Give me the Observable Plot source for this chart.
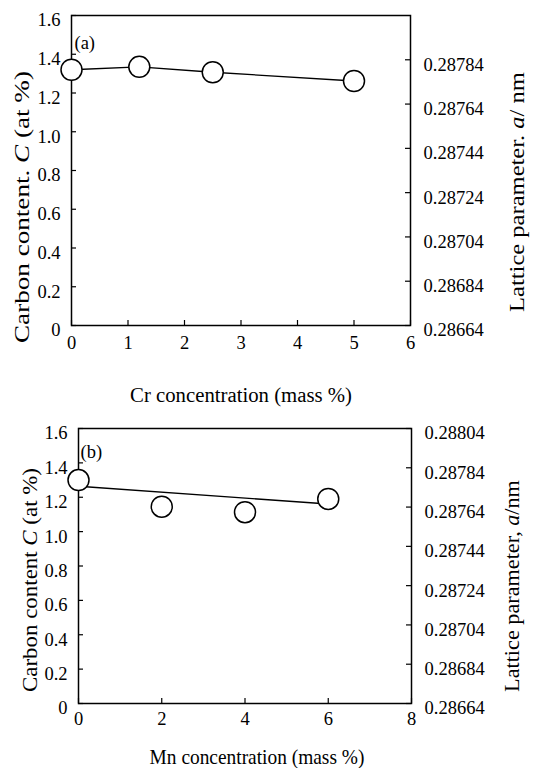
<!DOCTYPE html>
<html><head><meta charset="utf-8">
<script src="https://cdn.jsdelivr.net/npm/d3@7"></script>
<script src="https://cdn.jsdelivr.net/npm/@observablehq/plot@0.6"></script>
<style>
body{margin:0;background:#fff;}
svg{display:block;}
svg text, svg tspan{font-family:"Liberation Serif","Times New Roman",serif !important;}
</style>
</head><body><div id="chart"></div>
<script>
// ---- data ----
const crConc = [0, 1.2, 2.5, 5];
const crCarbon = [1.32, 1.335, 1.307, 1.262];
const mnConc = [0, 2, 4, 6];
const mnCarbon = [1.30, 1.145, 1.113, 1.19];
const mnFitConc = [0, 6];
const mnFitCarbon = [1.264, 1.161];
const carbonTicks = [0, 0.2, 0.4, 0.6, 0.8, 1.0, 1.2, 1.4, 1.6];
const latticeTicksA = ["0.28664", "0.28684", "0.28704", "0.28724", "0.28744", "0.28764", "0.28784"];
const latticeTicksB = ["0.28664", "0.28684", "0.28704", "0.28724", "0.28744", "0.28764", "0.28784", "0.28804"];
const latticeMin = 0.28664, latticeMax = 0.28804;
const crTicks = [0, 1, 2, 3, 4, 5, 6];
const mnTicks = [0, 2, 4, 6, 8];

const FONT = "Liberation Serif";
const FS = 18.5;
const fmtC = d => d === 0 ? "0" : d.toFixed(1);
const titles = [];

function panel(cfg) {
  const W = 545;
  const {height, ml, mr, mt, mb} = cfg;
  const pw = W - ml - mr, ph = height - mt - mb;
  const toC = v => (+v - latticeMin) / (latticeMax - latticeMin) * 1.6;
  const latPos = cfg.lat.map(toC);
  const latMap = new Map(latPos.map((p, i) => [p, cfg.lat[i]]));
  const pts = cfg.xs.map((x, i) => ({x, y: cfg.ys[i]}));
  const fit = cfg.fitX ? cfg.fitX.map((x, i) => ({x, y: cfg.fitY[i]})) : null;
  const svg = Plot.plot({
    width: W, height, marginLeft: ml, marginRight: mr, marginTop: mt, marginBottom: mb,
    style: {fontFamily: FONT, fontSize: FS + "px", color: "#000", background: "#fff", overflow: "visible"},
    x: {domain: cfg.xDomain},
    y: {domain: [0, 1.6]},
    marks: [
      Plot.axisY(carbonTicks, {anchor: "left", tickSize: 0, tickPadding: 11, dy: 5, tickFormat: fmtC, label: null, fontSize: FS, fontFamily: FONT, fill: "#000"}),
      Plot.axisY(latPos, {anchor: "right", tickSize: 0, tickPadding: 13, dy: 5, tickFormat: d => latMap.get(d), label: null, fontSize: FS, fontFamily: FONT, fill: "#000"}),
      Plot.axisX(cfg.xTicks, {anchor: "bottom", tickSize: 0, tickPadding: cfg.xPad, label: null, fontSize: FS, fontFamily: FONT, fill: "#000"}),
      Plot.tickY(carbonTicks, {y: d => d, insetRight: pw - 5, stroke: "#000", strokeWidth: 1.2}),
      Plot.tickY(latPos, {y: d => d, insetLeft: pw - 5, stroke: "#000", strokeWidth: 1.2}),
      Plot.tickX(cfg.xTicks, {x: d => d, insetTop: ph - 5, stroke: "#000", strokeWidth: 1.2}),
      Plot.frame({stroke: "#000", strokeWidth: 1.5}),
      fit ? Plot.line(fit, {x: "x", y: "y", stroke: "#000", strokeWidth: 1.4})
          : Plot.line(pts, {x: "x", y: "y", stroke: "#000", strokeWidth: 1.3}),
      Plot.dot(pts, {x: "x", y: "y", r: 10.5, fill: "white", stroke: "#000", strokeWidth: 1.5}),
      Plot.text([cfg.tag], {frameAnchor: "top-left", textAnchor: "start", lineAnchor: "middle", dx: cfg.tagDx, dy: cfg.tagDy, fontSize: FS, fontFamily: FONT, fill: "#000"})
    ]
  });
  const s = d3.select(svg);
  const t = (spec, rot, parts) => {
    const [x, y, len] = spec;
    const el = s.append("text")
      .attr("transform", `translate(${x},${y}) rotate(${rot})`)
      .attr("text-anchor", "middle").attr("dy", "0.35em")
      .attr("font-family", FONT).attr("font-size", 20).attr("fill", "#000");
    parts.forEach(([txt, it]) => el.append("tspan").attr("font-style", it ? "italic" : "normal").text(txt));
    titles.push({el, x, y, rot, len});
  };
  t(cfg.xt, 0, cfg.xTitle);
  t(cfg.lt, -90, cfg.lTitle);
  t(cfg.rt, -90, cfg.rTitle);
  return svg;
}

const root = document.getElementById("chart");
root.append(panel({
  height: 410, ml: 71, mr: 135, mt: 15, mb: 85,
  xDomain: [0, 6], xTicks: crTicks, xPad: 10,
  lat: latticeTicksA, xs: crConc, ys: crCarbon,
  tag: "(a)", tagDx: 3, tagDy: 28,
  xt: [241, 395, 222], xTitle: [["Cr concentration (mass %)", false]],
  lt: [22, 207, 272], lTitle: [["Carbon content. ", false], ["C", true], [" (at %)", false]],
  rt: [517, 192, 240], rTitle: [["Lattice parameter. ", false], ["a", true], ["/ nm", false]]
}));
root.append(panel({
  height: 358, ml: 78, mr: 134, mt: 18, mb: 65,
  xDomain: [0, 8], xTicks: mnTicks, xPad: 8,
  lat: latticeTicksB, xs: mnConc, ys: mnCarbon, fitX: mnFitConc, fitY: mnFitCarbon,
  tag: "(b)", tagDx: 2, tagDy: 24,
  xt: [257, 347, 215], xTitle: [["Mn concentration (mass %)", false]],
  lt: [30, 170, 224], lTitle: [["Carbon content ", false], ["C", true], [" (at %)", false]],
  rt: [512, 176, 212], rTitle: [["Lattice parameter, ", false], ["a", true], ["/nm", false]]
}));
// stretch the axis titles along their reading direction to the reference lengths
for (const {el, x, y, rot, len} of titles) {
  const natural = el.node().getComputedTextLength();
  const k = natural > 0 ? len / natural : 1;
  el.attr("transform", `translate(${x},${y}) rotate(${rot}) scale(${k},1)`);
}
</script></body></html>
